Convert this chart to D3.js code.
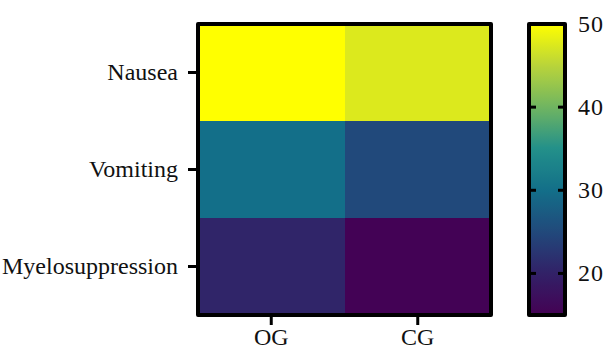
<!DOCTYPE html>
<html>
<head>
<meta charset="utf-8">
<script src="https://cdn.jsdelivr.net/npm/d3@7"></script>
<style>
  body { margin: 0; background: #fff; }
  text { font-family: 'Liberation Serif', 'Times New Roman', serif; fill: #111; }
</style>
</head>
<body>
<svg id="chart" width="605" height="351"></svg>
<script>
// Data
const groups = ['OG', 'CG']
const symptoms = ['Nausea', 'Vomiting', 'Myelosuppression']
const ogValues = [50, 30, 20.5]
const cgValues = [47.5, 25, 15.2]
const colorTicks = [20, 30, 40, 50]
const colorDomain = [15, 50]

// viridis-like palette of the reference, bottom to top (ends on pure yellow)
const palette = ['#440154', '#322167', '#21497b', '#136f89', '#22908a', '#70b561', '#b9d43a', '#ffff00']

const svg = d3.select('#chart')

// Plot frame
const plotLeft = 198
const plotRight = 491
const plotTop = 24
const plotBottom = 315

const x = d3.scaleBand().domain(groups).range([plotLeft, plotRight])
const y = d3.scaleBand().domain(symptoms).range([plotTop, plotBottom])
const interp = d3.piecewise(d3.interpolateRgb, palette)
const color = d3.scaleSequential(interp).domain(colorDomain)

const cells = []
symptoms.forEach((s, i) => {
  cells.push({ group: 'OG', symptom: s, value: ogValues[i] })
  cells.push({ group: 'CG', symptom: s, value: cgValues[i] })
})

svg.selectAll('rect.cell')
  .data(cells)
  .enter().append('rect')
  .attr('class', 'cell')
  .attr('x', d => x(d.group))
  .attr('y', d => y(d.symptom))
  .attr('width', x.bandwidth() + 0.5)
  .attr('height', y.bandwidth() + 0.5)
  .attr('fill', d => color(d.value))
  .attr('shape-rendering', 'crispEdges')

svg.append('rect')
  .attr('x', plotLeft).attr('y', plotTop)
  .attr('width', plotRight - plotLeft).attr('height', plotBottom - plotTop)
  .attr('fill', 'none')
  .attr('stroke', '#000')
  .attr('stroke-width', 4)
  .attr('stroke-linejoin', 'round')

// Axes
const yAxis = d3.axisLeft(y).tickSize(9).tickPadding(10)
const gy = svg.append('g').attr('transform', `translate(${plotLeft - 1},0)`).call(yAxis)
gy.select('.domain').remove()
gy.selectAll('.tick line').attr('stroke', '#000').attr('stroke-width', 3)
gy.selectAll('.tick text').style('font-size', '24px').attr('fill', '#111')

const xAxis = d3.axisBottom(x).tickSize(9).tickPadding(3)
const gx = svg.append('g').attr('transform', `translate(0,${plotBottom + 1})`).call(xAxis)
gx.select('.domain').remove()
gx.selectAll('.tick line').attr('stroke', '#000').attr('stroke-width', 3)
gx.selectAll('.tick text').style('font-size', '24px').attr('fill', '#111')

// Color bar
const barX = 529
const barW = 36
const cy = d3.scaleLinear().domain(colorDomain).range([plotBottom, plotTop])

const grad = svg.append('defs').append('linearGradient')
  .attr('id', 'cbar')
  .attr('x1', 0).attr('y1', 1).attr('x2', 0).attr('y2', 0)
d3.range(0, 1.0001, 0.025).forEach(t => {
  grad.append('stop')
    .attr('offset', t)
    .attr('stop-color', interp(t))
})

svg.append('rect')
  .attr('x', barX).attr('y', plotTop)
  .attr('width', barW).attr('height', plotBottom - plotTop)
  .attr('fill', 'url(#cbar)')

svg.selectAll('line.ctick-l')
  .data(colorTicks.filter(d => d < 50))
  .enter().append('line')
  .attr('x1', barX).attr('x2', barX + 7)
  .attr('y1', d => cy(d)).attr('y2', d => cy(d))
  .attr('stroke', '#000').attr('stroke-width', 3)

svg.selectAll('line.ctick-r')
  .data(colorTicks.filter(d => d < 50))
  .enter().append('line')
  .attr('x1', barX + barW - 7).attr('x2', barX + barW)
  .attr('y1', d => cy(d)).attr('y2', d => cy(d))
  .attr('stroke', '#000').attr('stroke-width', 3)

svg.append('rect')
  .attr('x', barX).attr('y', plotTop)
  .attr('width', barW).attr('height', plotBottom - plotTop)
  .attr('fill', 'none')
  .attr('stroke', '#000')
  .attr('stroke-width', 4)
  .attr('stroke-linejoin', 'round')

svg.selectAll('text.clabel')
  .data(colorTicks)
  .enter().append('text')
  .attr('class', 'clabel')
  .attr('x', 578)
  .attr('y', d => cy(d))
  .attr('dy', '0.33em')
  .style('font-size', '24px')
  .style('letter-spacing', '1px')
  .text(d => d)
</script>
</body>
</html>
